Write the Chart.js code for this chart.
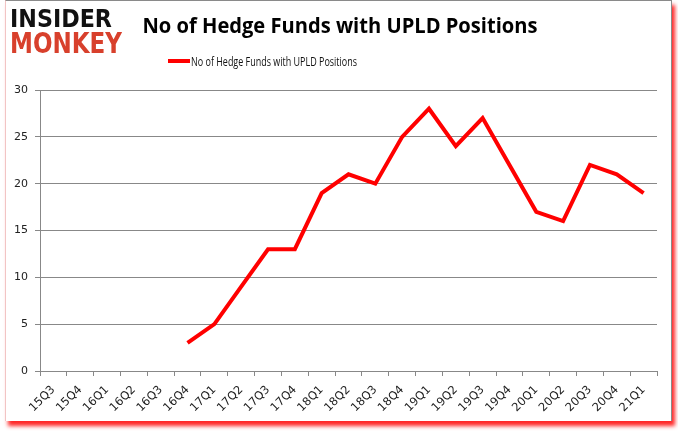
<!DOCTYPE html>
<html>
<head>
<meta charset="utf-8">
<script src="https://cdn.jsdelivr.net/npm/chart.js@4.4.0/dist/chart.umd.min.js"></script>
<style>
  body { margin:0; background:#fff; }
  #wrap { position:relative; width:678px; height:431px; }
  #frame {
    position:absolute; left:5px; top:0; width:665px; height:420px;
    border-top:1px solid #8a8a8a; border-right:1px solid #8a8a8a; border-left:1px solid #f2c4c4;
    box-shadow: 3px 5px 4px rgba(255,0,0,0.85);
    background:#fff;
  }
  canvas { position:absolute; left:0; top:0; }
</style>
</head>
<body>
<div id="wrap">
  <div id="frame"></div>
  <canvas id="chart" width="678" height="431"></canvas>
</div>
<script>
// ---- DATA ----
const quarters = ["15Q3","15Q4","16Q1","16Q2","16Q3","16Q4","17Q1","17Q2","17Q3","17Q4",
  "18Q1","18Q2","18Q3","18Q4","19Q1","19Q2","19Q3","19Q4","20Q1","20Q2","20Q3","20Q4","21Q1"];
const hedgeFunds = [null,null,null,null,null,3,5,9,13,13,19,21,20,25,28,24,27,22,17,16,22,21,19];
const yTicks = [0,5,10,15,20,25,30];

const seriesName = "No of Hedge Funds with UPLD Positions";
const titleText = "No of Hedge Funds with UPLD Positions";

// ---- HEADER (logo, title, legend) ----
const headerPlugin = {
  id:'header',
  afterDraw(chart){
    const ctx = chart.ctx;
    ctx.save();
    ctx.textBaseline = 'alphabetic';
    ctx.textAlign = 'left';
    // logo
    ctx.fillStyle = '#111';
    ctx.font = 'bold 24px "DejaVu Sans"';
    ctx.fillText('INSIDER', 10, 27, 102);
    ctx.fillStyle = '#d8402c';
    ctx.font = 'bold 28px "DejaVu Sans"';
    ctx.fillText('MONKEY', 10, 53, 112);
    // title
    ctx.fillStyle = '#000';
    ctx.font = 'bold 21px "Open Sans"';
    ctx.textAlign = 'center';
    ctx.fillText(titleText, 340, 33, 395);
    // legend
    ctx.strokeStyle = '#ff0000';
    ctx.lineWidth = 4;
    ctx.beginPath();
    ctx.moveTo(168, 61);
    ctx.lineTo(190, 61);
    ctx.stroke();
    ctx.fillStyle = '#111';
    ctx.font = '12.5px "Liberation Sans Narrow", "Open Sans"';
    ctx.textAlign = 'left';
    ctx.fillText(seriesName, 191, 66, 166);
    ctx.restore();
  }
};

const chart = new Chart(document.getElementById('chart'), {
  type:'line',
  data:{
    labels:quarters,
    datasets:[{
      label:seriesName,
      data:hedgeFunds,
      borderColor:'#ff0000',
      backgroundColor:'#ff0000',
      borderWidth:4,
      pointRadius:0,
      tension:0,
      fill:false,
      spanGaps:false
    }]
  },
  options:{
    responsive:false,
    animation:false,
    layout:{padding:{left:0,right:21,top:90,bottom:0}},
    plugins:{legend:{display:false},title:{display:false},tooltip:{enabled:false}},
    scales:{
      x:{
        offset:true,
        grid:{offset:true,drawOnChartArea:false,drawTicks:true,tickLength:5,color:'#888'},
        border:{display:true,color:'#888',width:1},
        ticks:{
          autoSkip:false,minRotation:45,maxRotation:45,
          color:'#222',font:{family:'"DejaVu Sans"',size:11.5},padding:7
        },
        afterFit(s){ s.height = 60; }
      },
      y:{
        min:0,max:30,
        afterBuildTicks(s){ s.ticks = yTicks.map(v=>({value:v})); },
        grid:{color:'#888',lineWidth:1,drawTicks:true,tickLength:5},
        border:{display:true,color:'#888',width:1},
        ticks:{color:'#222',font:{family:'"DejaVu Sans"',size:11},padding:7},
        afterFit(s){ s.width = 40; }
      }
    }
  },
  plugins:[headerPlugin]
});
</script>
</body>
</html>
